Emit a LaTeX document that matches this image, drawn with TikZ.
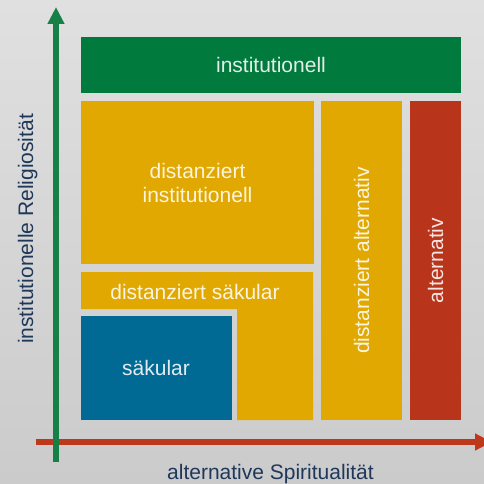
\documentclass[tikz,border=0pt]{standalone}
\usepackage{fontspec}
\setmainfont{Liberation Sans}
\usetikzlibrary{arrows.meta}
\definecolor{bgtop}{RGB}{223,224,223}
\definecolor{bgbot}{RGB}{203,203,203}
\definecolor{cgreen}{RGB}{0,122,61}
\definecolor{cyellow}{RGB}{224,168,0}
\definecolor{cblue}{RGB}{0,105,148}
\definecolor{cred}{RGB}{184,52,26}
\definecolor{agreen}{RGB}{22,128,70}
\definecolor{ared}{RGB}{190,56,28}
\definecolor{navy}{RGB}{31,56,90}
\begin{document}
\begin{tikzpicture}[x=1pt,y=-1pt,
  lbl/.style={text=white,text opacity=0.88,font=\fontsize{21}{24.7}\selectfont,inner sep=0pt,align=center},
  axl/.style={text=navy,font=\fontsize{21}{24.7}\selectfont,inner sep=0pt},
  axarrow/.style={line width=5.3pt,-{Triangle[length=17pt,width=16pt]}}]
\useasboundingbox (0,0) rectangle (484,484);
\shade[top color=bgtop,bottom color=bgbot] (0,0) rectangle (484,484);
% boxes
\fill[cgreen] (81,37) rectangle (461,93);
\node[lbl] (tInst) at (271,65) {institutionell};
\fill[cyellow] (81,101) rectangle (314,264);
\node[lbl] (tDI) at (197.5,183) {distanziert\\institutionell};
\fill[cyellow] (81,272) -- (313,272) -- (313,420) -- (237,420) -- (237,309) -- (81,309) -- cycle;
\node[lbl,anchor=base] (tDS) at (195,299) {distanziert säkular};
\fill[cblue] (81,316) rectangle (232,420);
\node[lbl,anchor=base] (tS) at (156,375) {säkular};
\fill[cyellow] (321,101) rectangle (402,420);
\node[lbl,rotate=90] (tDA) at (361.5,260.5) {distanziert alternativ};
\fill[cred] (410,101) rectangle (461,420);
\node[lbl,rotate=90] (tA) at (435.5,260.5) {alternativ};
% axes
\coordinate (xs) at (35.7,442);
\coordinate (xe) at (492,442);
\draw[axarrow,ared] (xs) -- (xe);
\coordinate (ys) at (56,462);
\coordinate (ye) at (56,7);
\draw[axarrow,agreen] (ys) -- (ye);
\node[axl,anchor=base] (xl) at (270.5,479.3) {alternative Spiritualität};
\node[axl,rotate=90,anchor=base] (yl) at (33,229) {institutionelle Religiosität};
\end{tikzpicture}
\end{document}
